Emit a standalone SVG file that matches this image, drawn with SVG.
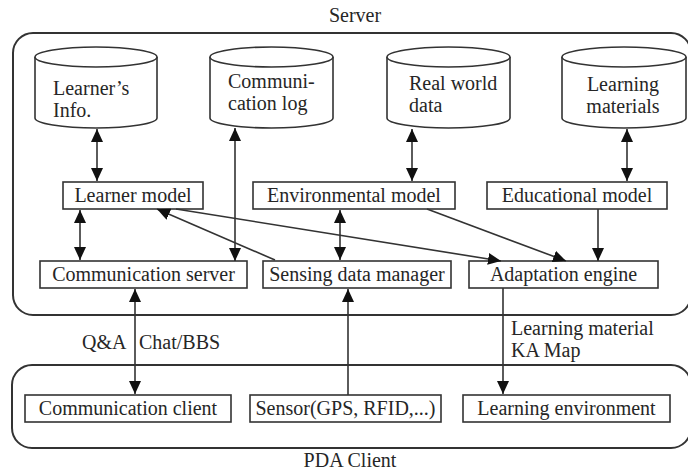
<svg xmlns="http://www.w3.org/2000/svg" width="688" height="470" viewBox="0 0 688 470">
<defs>
<style>
text{font-family:"Liberation Serif","Times New Roman",serif;font-size:20px;fill:#262626}
.c{text-anchor:middle}
.box{fill:#fff;stroke:#333;stroke-width:1.6}
.frame{fill:none;stroke:#333;stroke-width:2}
.cyl{fill:#fff;stroke:#333;stroke-width:1.6}
.ln{fill:none;stroke:#333;stroke-width:1.6}
</style>
<marker id="ah" markerUnits="userSpaceOnUse" markerWidth="13" markerHeight="12" refX="13" refY="6" orient="auto-start-reverse" viewBox="0 0 13 12">
<path d="M0,0 L13,6 L0,12 Z" fill="#111"/>
</marker>
</defs>
<rect width="688" height="470" fill="#fff"/>

<g id="server-frame">
<rect class="frame" x="13" y="33" width="678" height="282" rx="20"/>
<text class="c" x="355" y="22">Server</text>
</g>
<g id="pda-frame">
<rect class="frame" x="12" y="365" width="679" height="83" rx="20"/>
<text class="c" x="350" y="467">PDA Client</text>
</g>

<g id="learners-info">
<path class="cyl" d="M35,57 V118 A61,10 0 0 0 157,118 V57"/>
<ellipse class="cyl" cx="96" cy="57" rx="61" ry="10"/>
<text x="53" y="95">Learner’s</text>
<text x="53" y="117">Info.</text>
</g>
<g id="communication-log">
<path class="cyl" d="M210,57 V118 A61.5,10 0 0 0 333,118 V57"/>
<ellipse class="cyl" cx="271.5" cy="57" rx="61.5" ry="10"/>
<text x="228" y="88">Communi-</text>
<text x="228" y="110">cation log</text>
</g>
<g id="real-world-data">
<path class="cyl" d="M387,57 V118 A61.5,10 0 0 0 510,118 V57"/>
<ellipse class="cyl" cx="448.5" cy="57" rx="61.5" ry="10"/>
<text x="409" y="90">Real world</text>
<text x="409" y="112">data</text>
</g>
<g id="learning-materials">
<path class="cyl" d="M562,57 V118 A62,10 0 0 0 686,118 V57"/>
<ellipse class="cyl" cx="624" cy="57" rx="62" ry="10"/>
<text class="c" x="623" y="91">Learning</text>
<text class="c" x="623" y="113">materials</text>
</g>

<g id="learner-model">
<rect class="box" x="63" y="182" width="140" height="27"/>
<text class="c" x="133" y="202">Learner model</text>
</g>
<g id="environmental-model">
<rect class="box" x="253" y="182" width="202" height="27"/>
<text class="c" x="354" y="202">Environmental model</text>
</g>
<g id="educational-model">
<rect class="box" x="487" y="182" width="180" height="27"/>
<text class="c" x="577" y="202">Educational model</text>
</g>
<g id="communication-server">
<rect class="box" x="40" y="261" width="207" height="27"/>
<text class="c" x="143.5" y="281">Communication server</text>
</g>
<g id="sensing-data-manager">
<rect class="box" x="263" y="261" width="188" height="27"/>
<text class="c" x="357" y="281">Sensing data manager</text>
</g>
<g id="adaptation-engine">
<rect class="box" x="469" y="261" width="189" height="27"/>
<text class="c" x="563.5" y="281">Adaptation engine</text>
</g>

<g id="communication-client">
<rect class="box" x="25" y="395" width="206" height="27"/>
<text class="c" x="128" y="415">Communication client</text>
</g>
<g id="sensor">
<rect class="box" x="250" y="395" width="191" height="27"/>
<text class="c" x="345.5" y="415">Sensor(GPS, RFID,...)</text>
</g>
<g id="learning-environment">
<rect class="box" x="463" y="395" width="207" height="27"/>
<text class="c" x="566.5" y="415">Learning environment</text>
</g>

<g id="connectors">
<line class="ln" x1="97" y1="129" x2="97" y2="181" marker-start="url(#ah)" marker-end="url(#ah)"/>
<line class="ln" x1="235" y1="128" x2="235" y2="261" marker-start="url(#ah)" marker-end="url(#ah)"/>
<line class="ln" x1="412" y1="129" x2="412" y2="181" marker-start="url(#ah)" marker-end="url(#ah)"/>
<line class="ln" x1="627" y1="129" x2="627" y2="181" marker-start="url(#ah)" marker-end="url(#ah)"/>
<line class="ln" x1="80" y1="210" x2="80" y2="260" marker-start="url(#ah)" marker-end="url(#ah)"/>
<line class="ln" x1="340" y1="210" x2="340" y2="260" marker-start="url(#ah)" marker-end="url(#ah)"/>
<line class="ln" x1="275" y1="260" x2="157" y2="209" marker-end="url(#ah)"/>
<line class="ln" x1="176" y1="209" x2="501" y2="261" marker-end="url(#ah)"/>
<line class="ln" x1="427" y1="209" x2="566" y2="261" marker-end="url(#ah)"/>
<line class="ln" x1="598" y1="209" x2="598" y2="261" marker-end="url(#ah)"/>
<line class="ln" x1="135" y1="289" x2="135" y2="394" marker-start="url(#ah)" marker-end="url(#ah)"/>
<line class="ln" x1="348" y1="395" x2="348" y2="289" marker-end="url(#ah)"/>
<line class="ln" x1="503" y1="288" x2="503" y2="394" marker-end="url(#ah)"/>
<text x="82" y="349">Q&amp;A</text>
<text x="139" y="349">Chat/BBS</text>
<text x="511" y="335">Learning material</text>
<text x="511" y="357">KA Map</text>
</g>
</svg>
